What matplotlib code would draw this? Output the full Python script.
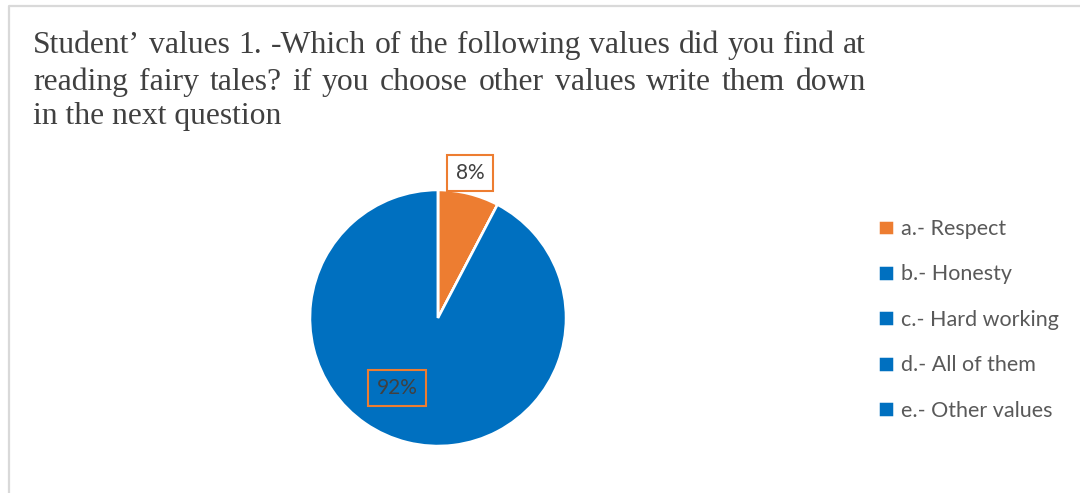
import matplotlib
matplotlib.use("Agg")
import matplotlib.pyplot as plt

###
# DATA
###
categories = ["a.- Respect", "b.- Honesty", "c.- Hard working", "d.- All of them", "e.- Other values"]
counts = [1, 0, 0, 12, 0]
slice_colors = ["#ED7D31", "#0070C0", "#0070C0", "#0070C0", "#0070C0"]
title_lines = [
    "Student\u2019 values 1. -Which of the following values did you find at",
    "reading fairy tales? if you choose other values write them down",
    "in the next question",
]

W, H = 1080, 493
fig = plt.figure(figsize=(W / 100, H / 100), dpi=100)
fig.patch.set_facecolor("white")

## light gray frame (open to the right and bottom, as cropped)
frame = fig.add_axes([0, 0, 1, 1])
frame.set_xlim(0, W)
frame.set_ylim(H, 0)
frame.axis("off")
frame.plot([8.5, 8.5, W], [H, 5.5, 5.5], color="#d9d9d9", lw=1.6)

## title, justified like the word-processor original
renderer = fig.canvas.get_renderer()
x0, x1 = 33, 866
baselines = [53, 90, 124]
tfont = dict(family="Liberation Serif", fontsize=22.8, color="#404040")
for li, (line, yb) in enumerate(zip(title_lines, baselines)):
    if li == len(title_lines) - 1:
        frame.text(x0, yb, line, va="baseline", ha="left", **tfont)
        continue
    words = line.split(" ")
    arts = [frame.text(0, yb, w, va="baseline", ha="left", **tfont) for w in words]
    widths = [a.get_window_extent(renderer).width for a in arts]
    gap = (x1 - x0 - sum(widths)) / (len(words) - 1)
    x = x0
    for a, w in zip(arts, widths):
        a.set_x(x)
        x += w + gap

## pie
cx, cy, r = 438, 318, 128
ax = fig.add_axes([(cx - r) / W, (H - cy - r) / H, 2 * r / W, 2 * r / H])
wedges, _ = ax.pie(counts, colors=slice_colors, startangle=90, counterclock=False,
                   radius=1, wedgeprops=dict(edgecolor="white", linewidth=1.8))
ax.set_xlim(-1, 1)
ax.set_ylim(-1, 1)

total = sum(counts)
lab_pos = {0: (0.25, 1.133), 3: (-0.32, -0.547)}
for i, (px, py) in lab_pos.items():
    pct = f"{counts[i] / total * 100:.0f}%"
    ax.text(px, py, pct, ha="center", va="center", fontsize=15, family="Lato",
            color="#404040", clip_on=False,
            bbox=dict(boxstyle="square,pad=0.4", fc="white" if i == 0 else "none",
                      ec="#ED7D31", lw=1.5))

## legend
leg = fig.legend(wedges, categories, loc="upper left", bbox_to_anchor=(878 / W, 1 - 219 / H),
                 frameon=False, prop=dict(family="Lato", size=15.5), handlelength=0.75,
                 handleheight=0.75, handletextpad=0.3, labelspacing=1.18, borderpad=0,
                 borderaxespad=0)
for t in leg.get_texts():
    t.set_color("#595959")

fig.savefig("out.png", dpi=100)
